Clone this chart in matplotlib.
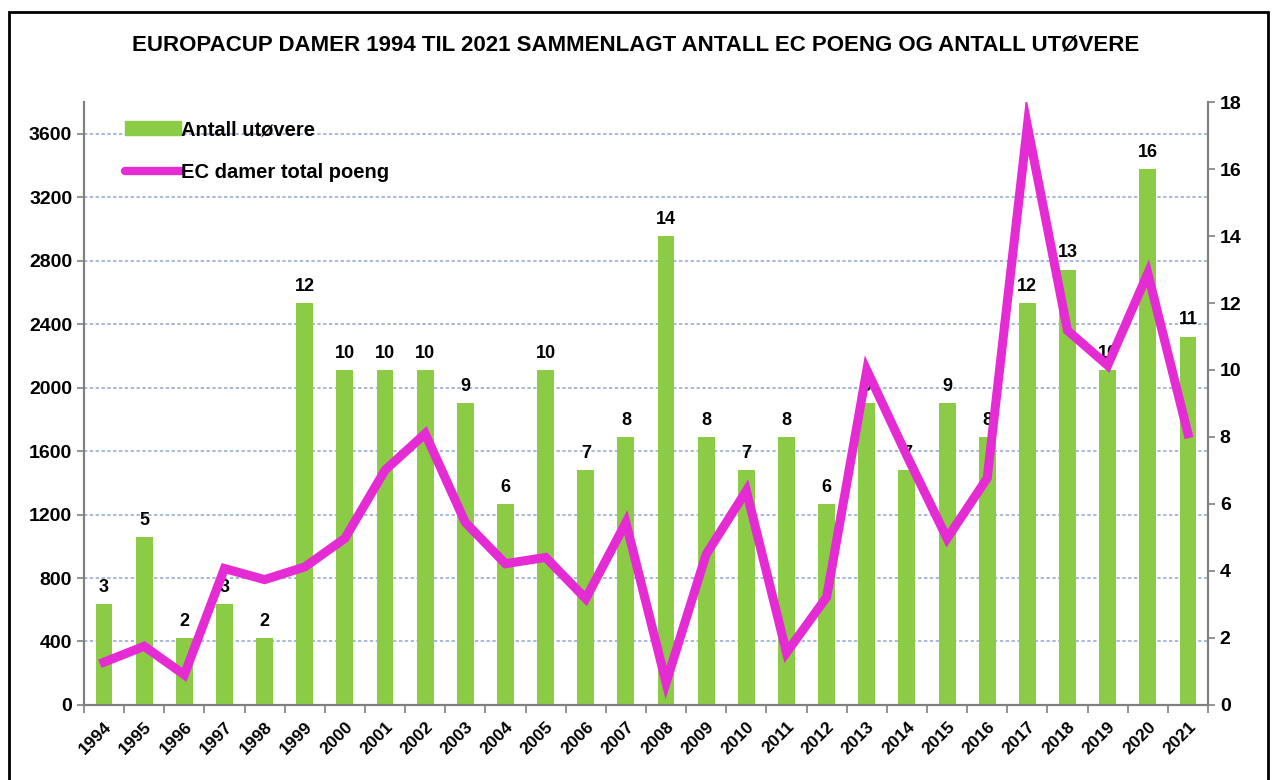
import numpy as np
import matplotlib.pyplot as plt
from matplotlib.patches import Rectangle

plt.rcParams['font.family'] = ['Liberation Sans Narrow', 'Liberation Sans', 'DejaVu Sans']

# data
years = [str(y) for y in range(1994, 2022)]
utovere = [3, 5, 2, 3, 2, 12, 10, 10, 10, 9, 6, 10, 7, 8, 14,
           8, 7, 8, 6, 9, 7, 9, 8, 12, 13, 10, 16, 11]
poeng = [270, 370, 190, 860, 790, 870, 1050, 1480, 1710, 1150, 890, 930,
         670, 1150, 140, 950, 1350, 330, 680, 2110, 1570, 1050, 1430,
         3650, 2360, 2140, 2720, 1710]
left_ticks = [0, 400, 800, 1200, 1600, 2000, 2400, 2800, 3200, 3600]
right_ticks = [0, 2, 4, 6, 8, 10, 12, 14, 16, 18]

GREEN = '#8CCB45'
MAGENTA = '#E52BD3'

fig = plt.figure(figsize=(12.72, 7.8), dpi=100)
ax = fig.add_axes([0.066, 0.0962, 0.8837, 0.773])
ax2 = ax.twinx()   # bars, right scale
ax3 = ax.twinx()   # line, left scale

x = np.arange(len(years))

# grid on the bottom axes (left scale)
ax.set_ylim(0, 3800)
ax.set_yticks(left_ticks)
ax.yaxis.grid(True, linestyle=(0, (2, 1.5)), color='#9AAAD6', linewidth=1.2)
ax.set_axisbelow(True)

ax2.bar(x, utovere, width=0.42, color=GREEN, zorder=2)
ax2.set_ylim(0, 18)
ax2.set_yticks(right_ticks)
for xi, v in zip(x, utovere):
    ax2.annotate(str(v), (xi, v), xytext=(0, 6), textcoords='offset points',
                 ha='center', va='bottom', fontsize=13, fontweight='bold')

ax3.plot(x, poeng, color=MAGENTA, linewidth=6.5, solid_joinstyle='miter')
ax3.set_ylim(0, 3800)
ax3.axis('off')

ax.set_xlim(-0.5, len(years) - 0.5)
ax.set_xticks(x)
ax.set_xticklabels(years, rotation=45, ha='right', rotation_mode='anchor',
                   fontsize=12.5, fontweight='bold')
ax.set_xticks(np.arange(-0.5, len(years)), minor=True)
ax.tick_params(axis='x', which='major', length=0, pad=10)
ax.tick_params(axis='x', which='minor', length=6, color='#808080', width=1.2)
ax.tick_params(axis='y', length=5, color='#808080', width=1.2, labelsize=14)
for lab in ax.get_yticklabels():
    lab.set_fontweight('bold')
ax2.tick_params(axis='y', length=5, color='#808080', width=1.2, labelsize=14)
for lab in ax2.get_yticklabels():
    lab.set_fontweight('bold')

for a in (ax, ax2):
    a.spines['top'].set_visible(False)
    for s in ('left', 'right', 'bottom'):
        a.spines[s].set_color('#808080')
        a.spines[s].set_linewidth(1.5)

# legend
h_bar = Rectangle((0, 0), 1, 1, color=GREEN)
h_line = plt.Line2D([], [], color=MAGENTA, linewidth=6, solid_capstyle='round')
leg = ax3.legend([h_bar, h_line], ['Antall utøvere', 'EC damer total poeng'],
                 loc='upper left', bbox_to_anchor=(0.02, 1.0), frameon=False,
                 handlelength=2.8, handleheight=0.7, handletextpad=0.0,
                 labelspacing=1.2, prop={'size': 14.5, 'weight': 'bold'})

fig.text(0.5, 0.942, 'EUROPACUP DAMER 1994 TIL 2021 SAMMENLAGT ANTALL EC POENG OG ANTALL UTØVERE',
         ha='center', va='center', fontsize=16, fontweight='bold')

# outer frame
fig.patches.append(Rectangle((0.007, -0.01), 0.99, 0.995, transform=fig.transFigure,
                             fill=False, edgecolor='black', linewidth=2))

fig.savefig('out.png', dpi=100)
